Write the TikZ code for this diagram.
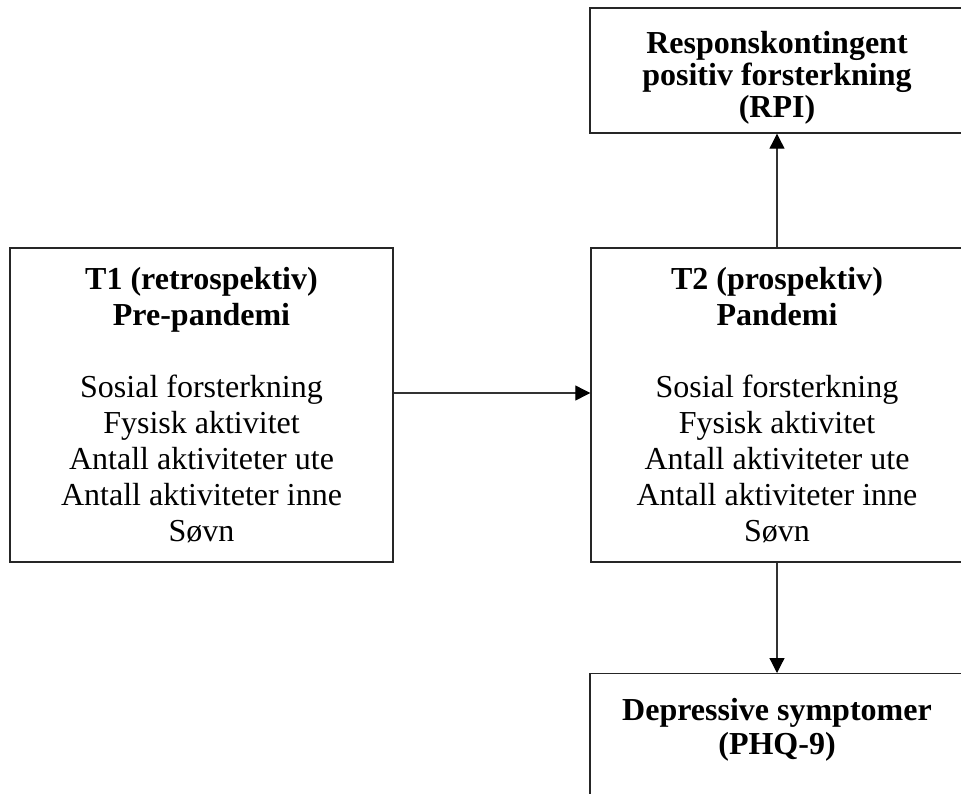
\documentclass[tikz,border=0pt]{standalone}
\usepackage{fontspec}
\setmainfont{Liberation Serif}
\usetikzlibrary{arrows.meta}
\begin{document}
\begin{tikzpicture}[x=1pt,y=-1pt,
  boxnode/.style={draw=black!85, line width=1.4pt, inner sep=0pt, align=center,
    font=\fontsize{32}{36}\selectfont},
  txt/.style={inner sep=0pt, align=center, font=\fontsize{32}{34}\selectfont},
  conn/.style={draw=black!80, line width=1.2pt,
    -{Triangle[length=15pt,width=15pt,color=black]}}]
\useasboundingbox (0,0) rectangle (961,793);
\clip (0,0) rectangle (961,793);
\node[boxnode, minimum width=374pt, minimum height=125pt] (rpi) at (777,70.5) {};
\node[txt, anchor=north, font=\fontsize{32}{32}\selectfont] (rpitext) at (777,31)
  {\textbf{Responskontingent}\\\textbf{positiv forsterkning}\\\textbf{(RPI)}};
\node[boxnode, minimum width=383pt, minimum height=314pt] (t1) at (201.5,405)
  {\textbf{T1 (retrospektiv)}\\\textbf{Pre-pandemi}\\[36pt]Sosial forsterkning\\Fysisk aktivitet\\Antall aktiviteter ute\\Antall aktiviteter inne\\Søvn};
\node[boxnode, minimum width=372pt, minimum height=314pt] (t2) at (777,405)
  {\textbf{T2 (prospektiv)}\\\textbf{Pandemi}\\[36pt]Sosial forsterkning\\Fysisk aktivitet\\Antall aktiviteter ute\\Antall aktiviteter inne\\Søvn};
\node[boxnode, minimum width=374pt, minimum height=200pt, anchor=north] (dep) at (777,673) {};
\node[txt, anchor=north] (deptext) at (777,698)
  {\textbf{Depressive symptomer}\\\textbf{(PHQ-9)}};
\draw[conn] ([yshift=12pt]t1.east) -- ([yshift=12pt]t2.west);
\draw[conn] (t2.north) -- (rpi.south);
\draw[conn] (t2.south) -- (dep.north);
\end{tikzpicture}
\end{document}
